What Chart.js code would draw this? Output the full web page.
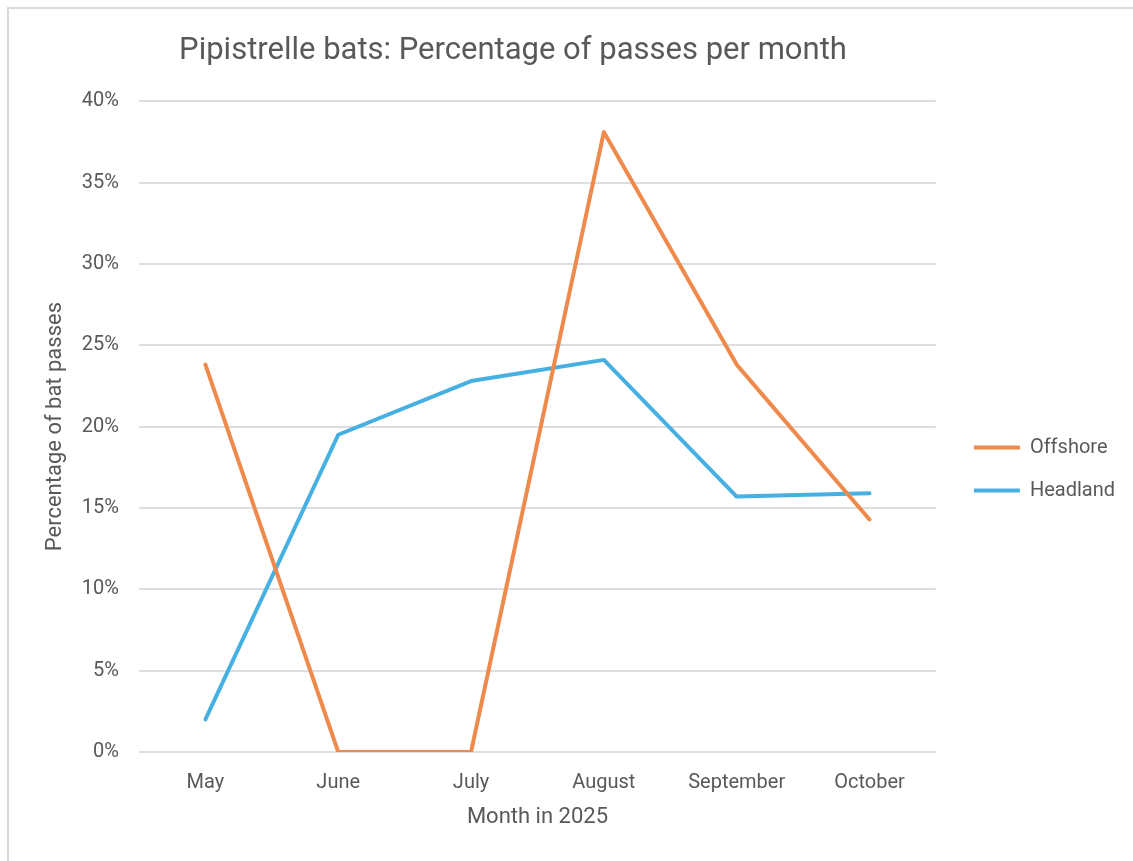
<!DOCTYPE html>
<html>
<head>
<meta charset="utf-8">
<title>Pipistrelle bats: Percentage of passes per month</title>
<script src="https://cdn.jsdelivr.net/npm/chart.js@4/dist/chart.umd.min.js"></script>
<style>
  html, body { margin: 0; padding: 0; background: #ffffff; overflow: hidden; }
  #wrap { position: relative; width: 1133px; height: 861px; }
  #frame {
    position: absolute; left: 7px; top: 7px; width: 1200px; height: 900px;
    border-left: 2px solid #d9d9d9; border-top: 2px solid #d9d9d9;
  }
  canvas { position: absolute; left: 0; top: 0; }
</style>
</head>
<body>
<div id="wrap">
  <div id="frame"></div>
  <canvas id="chart" width="1133" height="861"></canvas>
</div>
<script>
// Monthly share of pipistrelle passes at each survey site (percent)
const months = ['May', 'June', 'July', 'August', 'September', 'October'];
const offshore = [23.81, 0, 0, 38.10, 23.81, 14.29];
const headland = [2.0, 19.5, 22.8, 24.1, 15.7, 15.9];
const yTicks = [0, 5, 10, 15, 20, 25, 30, 35, 40];

const seriesNames = ['Offshore', 'Headland'];
const seriesColors = ['#EE8A4C', '#47B0E2'];

const textColor = '#595959';
const fontFamily = 'Roboto, "Noto Sans", sans-serif';

// Nudges the title and legend boxes after layout so they sit where wanted
const placeBoxes = {
  id: 'placeBoxes',
  afterLayout(chart) {
    const t = chart.titleBlock;
    if (t) { t.left = 0; t.right = 1026; }
    const lg = chart.legend;
    if (lg) {
      const dx = 15, dy = 40;
      lg.left += dx; lg.right += dx;
      lg.top += dy; lg.bottom += dy;
    }
  }
};

const ctx = document.getElementById('chart').getContext('2d');
new Chart(ctx, {
  type: 'line',
  data: {
    labels: months,
    datasets: [
      {
        label: seriesNames[0],
        data: offshore,
        borderColor: seriesColors[0],
        backgroundColor: seriesColors[0],
        borderWidth: 4,
        borderCapStyle: 'round',
        borderJoinStyle: 'round',
        pointRadius: 0,
        tension: 0
      },
      {
        label: seriesNames[1],
        data: headland,
        borderColor: seriesColors[1],
        backgroundColor: seriesColors[1],
        borderWidth: 4,
        borderCapStyle: 'round',
        borderJoinStyle: 'round',
        pointRadius: 0,
        tension: 0
      }
    ]
  },
  options: {
    responsive: false,
    animation: false,
    devicePixelRatio: 1,
    layout: { padding: { left: 8, right: 23, top: 0, bottom: 3 } },
    plugins: {
      title: {
        display: true,
        text: 'Pipistrelle bats: Percentage of passes per month',
        color: textColor,
        font: { family: fontFamily, size: 31, weight: 'normal' },
        padding: { top: 33, bottom: 31 }
      },
      legend: {
        display: true,
        position: 'right',
        labels: {
          color: textColor,
          font: { family: fontFamily, size: 20 },
          usePointStyle: true,
          pointStyle: 'line',
          pointStyleWidth: 46,
          padding: 23
        }
      },
      tooltip: { enabled: false }
    },
    scales: {
      x: {
        offset: true,
        grid: { display: false },
        border: { display: false },
        ticks: {
          color: textColor,
          font: { family: fontFamily, size: 20 },
          padding: 11,
          maxRotation: 0
        },
        title: {
          display: true,
          text: 'Month in 2025',
          color: textColor,
          font: { family: fontFamily, size: 22 },
          padding: { top: 0, bottom: 27 }
        },
        afterFit(scale) { scale.height = 106; }
      },
      y: {
        min: 0,
        max: 40,
        afterBuildTicks(scale) { scale.ticks = yTicks.map(v => ({ value: v })); },
        grid: { color: '#dedede', lineWidth: 2, drawTicks: false },
        border: { display: false },
        ticks: {
          color: textColor,
          font: { family: fontFamily, size: 20 },
          padding: 20,
          callback: v => v + '%'
        },
        title: {
          display: true,
          text: 'Percentage of bat passes',
          color: textColor,
          font: { family: fontFamily, size: 22 },
          padding: { top: 34, bottom: 0 }
        },
        afterFit(scale) { scale.width = 131; }
      }
    }
  },
  plugins: [placeBoxes]
});
</script>
</body>
</html>
